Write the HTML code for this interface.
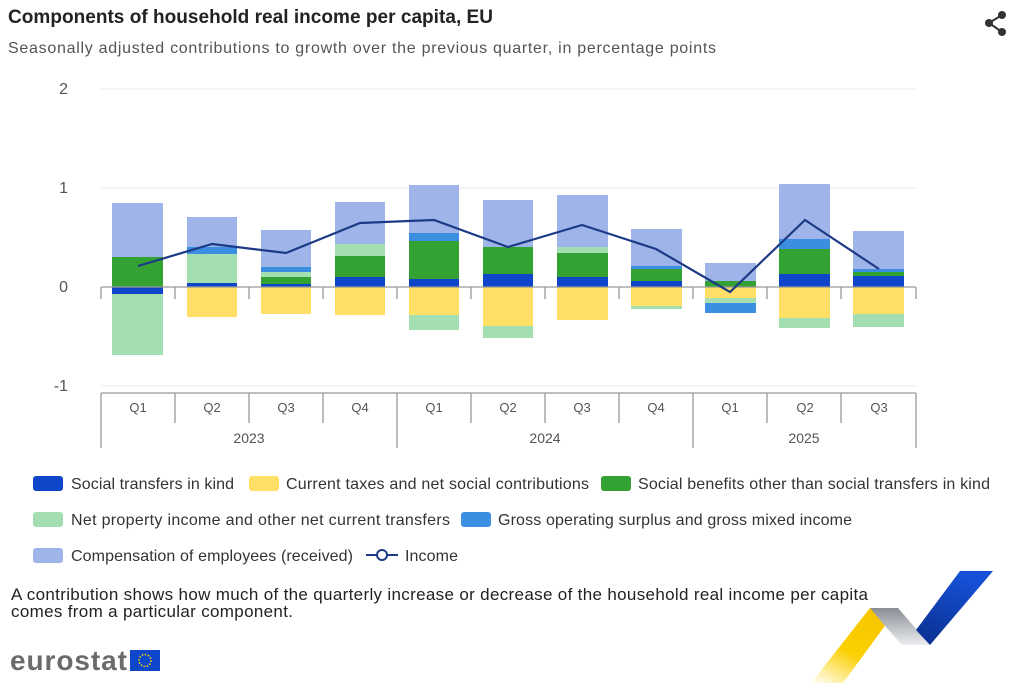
<!DOCTYPE html>
<html><head><meta charset="utf-8"><style>
body{margin:0;background:#fff;width:1024px;height:691px;overflow:hidden;font-family:"Liberation Sans",sans-serif;}
</style></head><body>
<svg width="1024" height="691" xmlns="http://www.w3.org/2000/svg" font-family="Liberation Sans, sans-serif">
<defs>
<linearGradient id="yg" x1="0" y1="1" x2="0.6" y2="0"><stop offset="0" stop-color="#fff" /><stop offset="0.5" stop-color="#fcd000"/><stop offset="1" stop-color="#f7c600"/></linearGradient>
<linearGradient id="gg" x1="0" y1="0" x2="0" y2="1"><stop offset="0" stop-color="#8a8d94"/><stop offset="1" stop-color="#eceef2"/></linearGradient>
<linearGradient id="bg" x1="0" y1="1" x2="0.5" y2="0"><stop offset="0" stop-color="#0a2e8c"/><stop offset="1" stop-color="#1550d6"/></linearGradient>
</defs>
<text x="8" y="23" font-size="19" font-weight="bold" fill="#222" textLength="485">Components of household real income per capita, EU</text>
<text x="8" y="53" font-size="16" fill="#555" textLength="708">Seasonally adjusted contributions to growth over the previous quarter, in percentage points</text>
<g fill="#333"><circle cx="1002" cy="15" r="4"/><circle cx="989" cy="23" r="4"/><circle cx="1002" cy="32" r="4"/></g>
<path d="M1002 15 L989 23 L1002 32" stroke="#333" stroke-width="2" fill="none"/>
<g stroke="#e6eaf2" stroke-width="1">
<line x1="101" y1="89" x2="916" y2="89"/><line x1="101" y1="188" x2="916" y2="188"/><line x1="101" y1="386" x2="916" y2="386"/>
</g>
<g font-size="16" fill="#555" text-anchor="end">
<text x="68" y="94">2</text><text x="68" y="193">1</text><text x="68" y="292">0</text><text x="68" y="391">-1</text>
</g>
<g id="bars">
<rect x="112" y="203" width="51" height="54" fill="#9fb4e8"/><rect x="112" y="257" width="51" height="30" fill="#34a233"/>
<rect x="112" y="287" width="51" height="7" fill="#0e45c9"/><rect x="112" y="294" width="51" height="61" fill="#a3dfb0"/>

<rect x="187" y="217" width="50" height="30" fill="#9fb4e8"/><rect x="187" y="247" width="50" height="7" fill="#3b8ee0"/><rect x="187" y="254" width="50" height="29" fill="#a3dfb0"/><rect x="187" y="283" width="50" height="4" fill="#0e45c9"/>
<rect x="187" y="287" width="50" height="30" fill="#ffdf66"/>

<rect x="261" y="230" width="50" height="37" fill="#9fb4e8"/><rect x="261" y="267" width="50" height="5" fill="#3b8ee0"/><rect x="261" y="272" width="50" height="5" fill="#a3dfb0"/><rect x="261" y="277" width="50" height="7" fill="#34a233"/><rect x="261" y="284" width="50" height="3" fill="#0e45c9"/>
<rect x="261" y="287" width="50" height="27" fill="#ffdf66"/>

<rect x="335" y="202" width="50" height="42" fill="#9fb4e8"/><rect x="335" y="244" width="50" height="12" fill="#a3dfb0"/><rect x="335" y="256" width="50" height="21" fill="#34a233"/><rect x="335" y="277" width="50" height="10" fill="#0e45c9"/>
<rect x="335" y="287" width="50" height="28" fill="#ffdf66"/>

<rect x="409" y="185" width="50" height="48" fill="#9fb4e8"/><rect x="409" y="233" width="50" height="8" fill="#3b8ee0"/><rect x="409" y="241" width="50" height="38" fill="#34a233"/><rect x="409" y="279" width="50" height="8" fill="#0e45c9"/>
<rect x="409" y="287" width="50" height="28" fill="#ffdf66"/><rect x="409" y="315" width="50" height="15" fill="#a3dfb0"/>

<rect x="483" y="200" width="50" height="47" fill="#9fb4e8"/><rect x="483" y="247" width="50" height="27" fill="#34a233"/><rect x="483" y="274" width="50" height="13" fill="#0e45c9"/>
<rect x="483" y="287" width="50" height="39" fill="#ffdf66"/><rect x="483" y="326" width="50" height="12" fill="#a3dfb0"/>

<rect x="557" y="195" width="51" height="52" fill="#9fb4e8"/><rect x="557" y="247" width="51" height="6" fill="#a3dfb0"/><rect x="557" y="253" width="51" height="24" fill="#34a233"/><rect x="557" y="277" width="51" height="10" fill="#0e45c9"/>
<rect x="557" y="287" width="51" height="33" fill="#ffdf66"/>

<rect x="631" y="229" width="51" height="37" fill="#9fb4e8"/><rect x="631" y="266" width="51" height="3" fill="#3b8ee0"/><rect x="631" y="269" width="51" height="12" fill="#34a233"/><rect x="631" y="281" width="51" height="6" fill="#0e45c9"/>
<rect x="631" y="287" width="51" height="19" fill="#ffdf66"/><rect x="631" y="306" width="51" height="3" fill="#a3dfb0"/>

<rect x="705" y="263" width="51" height="18" fill="#9fb4e8"/><rect x="705" y="281" width="51" height="6" fill="#34a233"/>
<rect x="705" y="287" width="51" height="11" fill="#ffdf66"/><rect x="705" y="298" width="51" height="5" fill="#a3dfb0"/><rect x="705" y="303" width="51" height="10" fill="#3b8ee0"/>

<rect x="779" y="184" width="51" height="55" fill="#9fb4e8"/><rect x="779" y="239" width="51" height="10" fill="#3b8ee0"/><rect x="779" y="249" width="51" height="25" fill="#34a233"/><rect x="779" y="274" width="51" height="13" fill="#0e45c9"/>
<rect x="779" y="287" width="51" height="31" fill="#ffdf66"/><rect x="779" y="318" width="51" height="10" fill="#a3dfb0"/>

<rect x="853" y="231" width="51" height="38" fill="#9fb4e8"/><rect x="853" y="269" width="51" height="3" fill="#3b8ee0"/><rect x="853" y="272" width="51" height="4" fill="#34a233"/><rect x="853" y="276" width="51" height="11" fill="#0e45c9"/>
<rect x="853" y="287" width="51" height="27" fill="#ffdf66"/><rect x="853" y="314" width="51" height="13" fill="#a3dfb0"/>
</g>
<g stroke="#999" stroke-width="1.3" fill="none">
<line x1="101" y1="287" x2="916" y2="287"/>
<path d="M101 287v12M175 287v12M249 287v12M323 287v12M397 287v12M471 287v12M545 287v12M619 287v12M693 287v12M767 287v12M841 287v12M916 287v12"/>
<line x1="101" y1="393" x2="916" y2="393"/>
<path d="M101 393v55M175 393v30M249 393v30M323 393v30M397 393v55M471 393v30M545 393v30M619 393v30M693 393v55M767 393v30M841 393v30M916 393v55"/>
</g>
<polyline points="138,266 212,244 286,253 360,223 434,220 508,247 582,225 656,249 730,292 805,220 879,269" fill="none" stroke="#1c3a85" stroke-width="2.2"/>
<g font-size="13" fill="#555" text-anchor="middle">
<text x="138" y="412">Q1</text><text x="212" y="412">Q2</text><text x="286" y="412">Q3</text><text x="360" y="412">Q4</text><text x="434" y="412">Q1</text><text x="508" y="412">Q2</text><text x="582" y="412">Q3</text><text x="656" y="412">Q4</text><text x="730" y="412">Q1</text><text x="805" y="412">Q2</text><text x="879" y="412">Q3</text>
<text x="249" y="443" font-size="14">2023</text><text x="545" y="443" font-size="14">2024</text><text x="804" y="443" font-size="14">2025</text>
</g>
<g font-size="16" fill="#333">
<rect x="33" y="476" width="30" height="15" rx="3" fill="#0e45c9"/><text x="71" y="489" textLength="163">Social transfers in kind</text>
<rect x="249" y="476" width="30" height="15" rx="3" fill="#ffdf66"/><text x="286" y="489" textLength="303">Current taxes and net social contributions</text>
<rect x="601" y="476" width="30" height="15" rx="3" fill="#34a233"/><text x="638" y="489" textLength="352">Social benefits other than social transfers in kind</text>
<rect x="33" y="512" width="30" height="15" rx="3" fill="#a3dfb0"/><text x="71" y="525" textLength="379">Net property income and other net current transfers</text>
<rect x="461" y="512" width="30" height="15" rx="3" fill="#3b8ee0"/><text x="498" y="525" textLength="354">Gross operating surplus and gross mixed income</text>
<rect x="33" y="548" width="30" height="15" rx="3" fill="#9fb4e8"/><text x="71" y="561" textLength="282">Compensation of employees (received)</text>
<line x1="366" y1="555" x2="398" y2="555" stroke="#1c3a85" stroke-width="2"/><circle cx="382" cy="555" r="5" fill="#fff" stroke="#1c3a85" stroke-width="2"/><text x="405" y="561" textLength="53">Income</text>
</g>
<g font-size="17" fill="#222">
<text x="11" y="600" textLength="857">A contribution shows how much of the quarterly increase or decrease of the household real income per capita</text>
<text x="11" y="617" textLength="282">comes from a particular component.</text>
</g>
<text x="10" y="670" font-size="28" font-weight="bold" fill="#6b6b6b" textLength="117">eurostat</text>
<rect x="130" y="650" width="30" height="21" fill="#0e47cb"/>
<circle cx="145" cy="660.5" r="6" fill="none" stroke="#ffd600" stroke-width="1.5" stroke-dasharray="1.5 1.6"/>
<polygon points="811,683 843,683 898,608 870,608" fill="url(#yg)"/>
<polygon points="898,608 870,608 885,626 902,645 930,645" fill="url(#gg)"/>
<polygon points="916,630 930,645 993,571 960,571" fill="url(#bg)"/>
</svg>
</body></html>
